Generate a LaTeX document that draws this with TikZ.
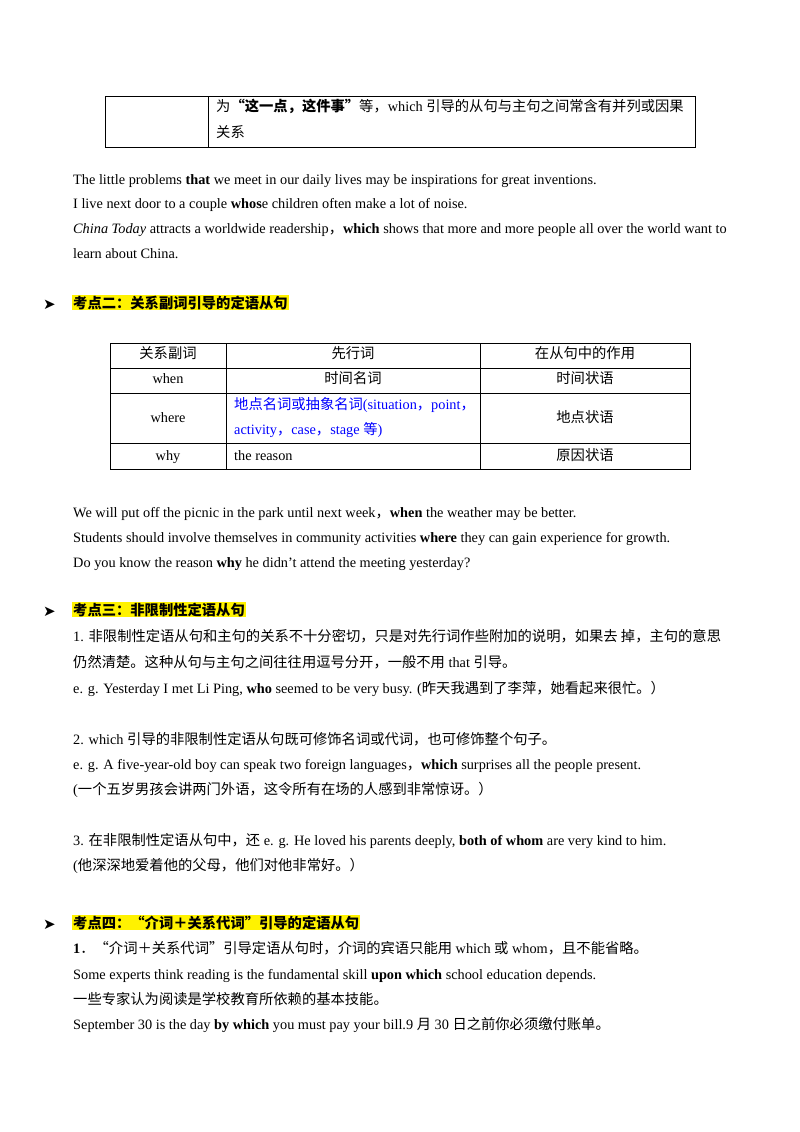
\documentclass[tikz,border=0pt]{standalone}
\usepackage{fontspec}
\setmainfont{Liberation Serif}
\newfontfamily\cjk{Noto Sans CJK SC}
\newfontfamily\djvfont{DejaVu Sans}
\newcommand\C[1]{{\cjk #1}}
\begin{document}
\begin{tikzpicture}[x=1pt,y=-1pt,
  t/.style={anchor=base west,inner sep=0pt,font=\fontsize{14.3}{16}\selectfont},
  c/.style={anchor=base,inner sep=0pt,font=\fontsize{14.3}{16}\selectfont},
  hd/.style={anchor=base west,inner sep=1pt,fill=yellow,font=\fontsize{14.3}{16}\selectfont\bfseries},
  ar/.style={anchor=base west,inner sep=0pt,font=\djvfont\fontsize{15}{16}\selectfont},
  grid/.style={line width=0.6pt}]
\useasboundingbox (0,0) rectangle (800,1132);
% top table
\draw[grid] (105,96) rectangle (695,147) (208,96) -- (208,147);
\node[t] (a1) at (216,111) {\C{为}\C{\textbf{“这一点，这件事”}}\C{等，}which \C{引导的从句与主句之间常含有并列或因果}};
\node[t] (a2) at (216,137) {\C{关系}};
\node[t] (l1) at (73,184) {The little problems \textbf{that} we meet in our daily lives may be inspirations for great inventions.};
\node[t] (l2) at (73,208) {I live next door to a couple \textbf{whos}e children often make a lot of noise.};
\node[t] (l3) at (73,233) {\textit{China Today} attracts a worldwide readership\C{，}\textbf{which} shows that more and more people all over the world want to};
\node[t] (l4) at (73,258) {learn about China.};
\node[ar] (h1a) at (43,309) {➤};
\node[hd] (h1) at (72,308) {\C{考点二：关系副词引导的定语从句}};
% table 2
\draw[grid] (110,343) rectangle (690,469);
\draw[grid] (110,368) -- (690,368) (110,393) -- (690,393) (110,443) -- (690,443);
\draw[grid] (226,343) -- (226,469) (480,343) -- (480,469);
\node[c] at (168,358) {\C{关系副词}};
\node[c] at (353,358) {\C{先行词}};
\node[c] at (585,358) {\C{在从句中的作用}};
\node[c] at (168,383) {when};
\node[c] at (353,383) {\C{时间名词}};
\node[c] at (585,383) {\C{时间状语}};
\node[c] at (168,422) {where};
\node[t,text=blue] at (234,409) {\C{地点名词或抽象名词}(situation\C{，}point\C{，}};
\node[t,text=blue] at (234,434) {activity\C{，}case\C{，}stage \C{等})};
\node[c] at (585,422) {\C{地点状语}};
\node[c] at (168,460) {why};
\node[t] at (234,460) {the reason};
\node[c] at (585,460) {\C{原因状语}};
\node[t] (m1) at (73,517) {We will put off the picnic in the park until next week\C{，}\textbf{when} the weather may be better.};
\node[t] (m2) at (73,542) {Students should involve themselves in community activities \textbf{where} they can gain experience for growth.};
\node[t] (m3) at (73,567) {Do you know the reason \textbf{why} he didn't attend the meeting yesterday?};
\node[ar] (h2a) at (43,616) {➤};
\node[hd] (h2) at (72,615) {\C{考点三：非限制性定语从句}};
\node[t] (n1) at (73,641) {1. \C{非限制性定语从句和主句的关系不十分密切，只是对先行词作些附加的说明，如果去 掉，主句的意思}};
\node[t] (n2) at (73,667) {\C{仍然清楚。这种从句与主句之间往往用逗号分开，一般不用} that \C{引导。}};
\node[t] (n3) at (73,693) {e. g. Yesterday I met Li Ping, \textbf{who} seemed to be very busy. (\C{昨天我遇到了李萍，她看起来很忙。）}};
\node[t] (n4) at (73,744) {2. which \C{引导的非限制性定语从句既可修饰名词或代词，也可修饰整个句子。}};
\node[t] (n5) at (73,769) {e. g. A five-year-old boy can speak two foreign languages\C{，}\textbf{which} surprises all the people present.};
\node[t] (n6) at (73,794) {(\C{一个五岁男孩会讲两门外语，这令所有在场的人感到非常惊讶。）}};
\node[t] (n7) at (73,845) {3. \C{在非限制性定语从句中，还} e. g. He loved his parents deeply, \textbf{both of whom} are very kind to him.};
\node[t] (n8) at (73,870) {(\C{他深深地爱着他的父母，他们对他非常好。）}};
\node[ar] (h3a) at (43,929) {➤};
\node[hd] (h3) at (72,928) {\C{考点四：“介词＋关系代词”引导的定语从句}};
\node[t] (p1) at (73,953) {\textbf{1}\C{．“介词＋关系代词”引导定语从句时，介词的宾语只能用} which \C{或} whom\C{，且不能省略。}};
\node[t] (p2) at (73,979) {Some experts think reading is the fundamental skill \textbf{upon which} school education depends.};
\node[t] (p3) at (73,1004) {\C{一些专家认为阅读是学校教育所依赖的基本技能。}};
\node[t] (p4) at (73,1029) {September 30 is the day \textbf{by which} you must pay your bill.9 \C{月} 30 \C{日之前你必须缴付账单。}};
\end{tikzpicture}
\end{document}
